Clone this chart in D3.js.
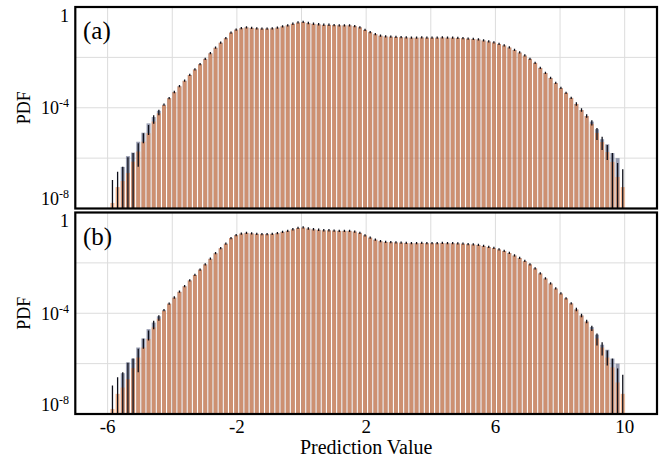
<!DOCTYPE html>
<html><head><meta charset="utf-8">
<script src="https://cdn.jsdelivr.net/npm/d3@7"></script>
<style>html,body{margin:0;padding:0;background:#fff}</style>
</head><body><svg id="chart" width="669" height="459"></svg>
<script>
// Histogram bins: 100 equal-width bins of prediction value
const binStart = -5.93;
const binWidth = 0.1595;

const xTickValues = [-6, -2, 2, 6, 10];
const xGridValues = [-6, -4, -2, 0, 2, 4, 6, 8, 10];
const yGridValues = [1e-2, 1e-4, 1e-6];
const yTickLabels = [{v: 1, base: "1", exp: ""}, {v: 1e-4, base: "10", exp: "-4"}, {v: 1e-8, base: "10", exp: "-8"}];
const panelLabels = ["(a)", "(b)"];

// log10(PDF) per bin, panel (a)
const orangeA = [
 -7.78,-7.15,-6.91,-6.59,-6.14,-5.74,-5.35,-5.01,-4.55,-4.22,
 -3.90,-3.62,-3.38,-3.15,-2.93,-2.70,-2.48,-2.27,-2.06,-1.84,
 -1.62,-1.42,-1.24,-1.02,-0.90,-0.84,-0.81,-0.83,-0.85,-0.86,
 -0.86,-0.85,-0.82,-0.77,-0.73,-0.67,-0.62,-0.60,-0.64,-0.67,
 -0.69,-0.71,-0.71,-0.72,-0.73,-0.73,-0.73,-0.76,-0.81,-0.91,
 -1.00,-1.08,-1.14,-1.17,-1.18,-1.19,-1.20,-1.21,-1.22,-1.22,
 -1.21,-1.22,-1.22,-1.22,-1.21,-1.22,-1.22,-1.23,-1.24,-1.26,
 -1.27,-1.29,-1.33,-1.37,-1.41,-1.47,-1.53,-1.61,-1.71,-1.81,
 -1.93,-2.06,-2.22,-2.42,-2.62,-2.82,-3.02,-3.22,-3.41,-3.61,
 -3.85,-4.09,-4.33,-4.64,-5.00,-5.36,-5.76,-6.15,-6.75,-7.15];
const navyA = [
 -9.00,-9.00,-6.35,-5.92,-5.78,-5.35,-4.99,-4.62,-4.37,-4.12,
 -3.88,-3.62,-3.38,-3.15,-2.93,-2.70,-2.48,-2.27,-2.06,-1.84,
 -1.62,-1.42,-1.24,-1.02,-0.90,-0.84,-0.81,-0.83,-0.85,-0.86,
 -0.86,-0.85,-0.82,-0.77,-0.73,-0.67,-0.62,-0.60,-0.64,-0.67,
 -0.69,-0.71,-0.71,-0.72,-0.73,-0.73,-0.73,-0.76,-0.81,-0.91,
 -1.00,-1.08,-1.14,-1.17,-1.18,-1.19,-1.20,-1.21,-1.22,-1.22,
 -1.21,-1.22,-1.22,-1.22,-1.21,-1.22,-1.22,-1.23,-1.24,-1.26,
 -1.27,-1.29,-1.33,-1.37,-1.41,-1.47,-1.53,-1.61,-1.71,-1.81,
 -1.93,-2.06,-2.22,-2.42,-2.62,-2.82,-3.02,-3.22,-3.41,-3.61,
 -3.85,-4.09,-4.33,-4.55,-4.85,-5.25,-5.45,-5.80,-6.00,-9.00];
const errHiA = [
 -6.87,-6.54,-6.34,-5.97,-5.80,-5.41,-5.01,-4.68,-4.30,-4.08,
 -3.83,-3.57,-3.33,-3.10,-2.88,-2.65,-2.43,-2.22,-2.01,-1.79,
 -1.57,-1.37,-1.19,-0.97,-0.85,-0.79,-0.76,-0.78,-0.80,-0.81,
 -0.81,-0.80,-0.77,-0.72,-0.68,-0.62,-0.57,-0.55,-0.59,-0.62,
 -0.64,-0.66,-0.66,-0.67,-0.68,-0.68,-0.68,-0.71,-0.76,-0.86,
 -0.95,-1.03,-1.09,-1.12,-1.13,-1.14,-1.15,-1.16,-1.17,-1.17,
 -1.16,-1.17,-1.17,-1.17,-1.16,-1.17,-1.17,-1.18,-1.19,-1.21,
 -1.22,-1.24,-1.28,-1.32,-1.36,-1.42,-1.48,-1.56,-1.66,-1.76,
 -1.88,-2.01,-2.17,-2.37,-2.57,-2.77,-2.97,-3.17,-3.36,-3.56,
 -3.78,-4.02,-4.26,-4.50,-4.80,-5.15,-5.48,-5.80,-6.19,-6.44];
const errLoA = [
 -9.00,-9.00,-9.00,-9.00,-9.00,-6.34,-5.41,-5.08,-4.64,-4.30,
 -3.92,-3.66,-3.42,-3.19,-2.97,-2.74,-2.52,-2.31,-2.10,-1.88,
 -1.66,-1.46,-1.28,-1.06,-0.94,-0.88,-0.85,-0.87,-0.89,-0.90,
 -0.90,-0.89,-0.86,-0.81,-0.77,-0.71,-0.66,-0.64,-0.68,-0.71,
 -0.73,-0.75,-0.75,-0.76,-0.77,-0.77,-0.77,-0.80,-0.85,-0.95,
 -1.04,-1.12,-1.18,-1.21,-1.22,-1.23,-1.24,-1.25,-1.26,-1.26,
 -1.25,-1.26,-1.26,-1.26,-1.25,-1.26,-1.26,-1.27,-1.28,-1.30,
 -1.31,-1.33,-1.37,-1.41,-1.45,-1.51,-1.57,-1.65,-1.75,-1.85,
 -1.97,-2.10,-2.26,-2.46,-2.66,-2.86,-3.06,-3.26,-3.45,-3.65,
 -3.92,-4.16,-4.40,-4.70,-5.28,-5.68,-6.07,-9.00,-9.00,-9.00];

// log10(PDF) per bin, panel (b)
const orangeB = [
 -7.80,-7.20,-6.95,-6.62,-6.18,-5.76,-5.36,-5.02,-4.56,-4.22,
 -3.90,-3.62,-3.38,-3.15,-2.93,-2.70,-2.48,-2.27,-2.06,-1.84,
 -1.62,-1.42,-1.24,-1.02,-0.90,-0.84,-0.81,-0.83,-0.85,-0.86,
 -0.86,-0.85,-0.82,-0.77,-0.73,-0.67,-0.62,-0.60,-0.64,-0.67,
 -0.69,-0.71,-0.71,-0.72,-0.73,-0.73,-0.73,-0.76,-0.81,-0.91,
 -1.00,-1.08,-1.14,-1.17,-1.18,-1.19,-1.20,-1.21,-1.22,-1.22,
 -1.21,-1.22,-1.22,-1.22,-1.21,-1.22,-1.22,-1.23,-1.24,-1.26,
 -1.27,-1.29,-1.33,-1.37,-1.41,-1.47,-1.53,-1.61,-1.71,-1.81,
 -1.93,-2.06,-2.22,-2.42,-2.62,-2.82,-3.02,-3.22,-3.41,-3.61,
 -3.85,-4.09,-4.33,-4.64,-5.00,-5.36,-5.76,-6.15,-6.75,-7.20];
const navyB = [
 -9.00,-9.00,-6.38,-5.95,-5.80,-5.36,-5.00,-4.63,-4.37,-4.12,
 -3.88,-3.62,-3.38,-3.15,-2.93,-2.70,-2.48,-2.27,-2.06,-1.84,
 -1.62,-1.42,-1.24,-1.02,-0.90,-0.84,-0.81,-0.83,-0.85,-0.86,
 -0.86,-0.85,-0.82,-0.77,-0.73,-0.67,-0.62,-0.60,-0.64,-0.67,
 -0.69,-0.71,-0.71,-0.72,-0.73,-0.73,-0.73,-0.76,-0.81,-0.91,
 -1.00,-1.08,-1.14,-1.17,-1.18,-1.19,-1.20,-1.21,-1.22,-1.22,
 -1.21,-1.22,-1.22,-1.22,-1.21,-1.22,-1.22,-1.23,-1.24,-1.26,
 -1.27,-1.29,-1.33,-1.37,-1.41,-1.47,-1.53,-1.61,-1.71,-1.81,
 -1.93,-2.06,-2.22,-2.42,-2.62,-2.82,-3.02,-3.22,-3.41,-3.61,
 -3.85,-4.09,-4.33,-4.55,-4.85,-5.25,-5.45,-5.80,-6.00,-9.00];
const errHiB = errHiA.slice();
const errLoB = errLoA.slice();

const panelsData = [
  {label: panelLabels[0], orange: orangeA, navy: navyA, hi: errHiA, lo: errLoA, top: 7, bottom: 208.5},
  {label: panelLabels[1], orange: orangeB, navy: navyB, hi: errHiB, lo: errLoB, top: 212.5, bottom: 414}
];

const svg = d3.select("#chart");
const font = "Liberation Serif, Times New Roman, serif";
const x = d3.scaleLinear().domain([-7, 11]).range([75.3, 657]);
const [xL, xR] = x.range();

panelsData.forEach((p, k) => {
  const y = d3.scaleLog().domain([1e-8, 1]).range([p.bottom, p.top]);
  const g = svg.append("g");
  const clipId = "clip" + k;
  svg.append("defs").append("clipPath").attr("id", clipId)
    .append("rect").attr("x", xL).attr("y", p.top).attr("width", xR - xL).attr("height", p.bottom - p.top);

  const plot = g.append("g").attr("clip-path", `url(#${clipId})`);

  // grid
  plot.selectAll("line.vg").data(xGridValues).join("line")
    .attr("x1", d => x(d)).attr("x2", d => x(d))
    .attr("y1", p.top).attr("y2", p.bottom)
    .attr("stroke", "#dcdcdc").attr("stroke-width", 1);
  plot.selectAll("line.hg").data(yGridValues).join("line")
    .attr("x1", xL).attr("x2", xR)
    .attr("y1", d => y(d)).attr("y2", d => y(d))
    .attr("stroke", "#dcdcdc").attr("stroke-width", 1);

  const bins = d3.range(p.orange.length).map(i => ({
    x0: binStart + i * binWidth,
    x1: binStart + (i + 1) * binWidth,
    orange: Math.pow(10, p.orange[i]),
    navy: Math.pow(10, p.navy[i]),
    hi: Math.pow(10, p.hi[i]),
    lo: Math.pow(10, p.lo[i])
  }));
  const bx = d => x(d.x0) + 0.6;
  const bw = d => x(d.x1) - x(d.x0) - 1.2;

  plot.append("g").selectAll("rect").data(bins).join("rect")
    .attr("x", bx).attr("width", bw)
    .attr("y", d => y(d.navy)).attr("height", d => Math.max(0, p.bottom - y(d.navy)))
    .attr("fill", "rgb(50,60,100)").attr("fill-opacity", 0.5);
  plot.append("g").selectAll("rect").data(bins).join("rect")
    .attr("x", bx).attr("width", bw)
    .attr("y", d => y(d.orange)).attr("height", d => Math.max(0, p.bottom - y(d.orange)))
    .attr("fill", "rgb(240,135,70)").attr("fill-opacity", 0.6);
  plot.append("g").selectAll("line").data(bins).join("line")
    .attr("x1", d => x((d.x0 + d.x1) / 2)).attr("x2", d => x((d.x0 + d.x1) / 2))
    .attr("y1", d => y(d.lo)).attr("y2", d => y(d.hi))
    .attr("stroke", "#0d0f1a").attr("stroke-width", 1.3);

  // frame
  g.append("rect").attr("x", xL).attr("y", p.top).attr("width", xR - xL).attr("height", p.bottom - p.top)
    .attr("fill", "none").attr("stroke", "#000").attr("stroke-width", 2.2);

  // y tick labels
  yTickLabels.forEach(t => {
    let cy = y(t.v);
    if (t.v === 1) cy += 8;
    if (t.v === 1e-8) cy -= 10;
    const txt = g.append("text").attr("x", 69).attr("y", cy + 6.5)
      .attr("text-anchor", "end").attr("font-family", font).attr("font-size", 18).attr("fill", "#000");
    txt.append("tspan").text(t.base);
    if (t.exp) txt.append("tspan").attr("font-size", 12).attr("dy", -7).text(t.exp);
  });

  // y axis title
  const cyMid = (p.top + p.bottom) / 2;
  g.append("text").attr("transform", `translate(30,${cyMid}) rotate(-90)`)
    .attr("text-anchor", "middle").attr("font-family", font).attr("font-size", 18).text("PDF");

  // panel label
  g.append("text").attr("x", 83).attr("y", p.top + 32)
    .attr("font-family", font).attr("font-size", 25).text(p.label);

  if (k === 1) {
    g.selectAll("text.xt").data(xTickValues).join("text")
      .attr("x", d => x(d)).attr("y", 432.5).attr("text-anchor", "middle")
      .attr("font-family", font).attr("font-size", 19).text(d => d);
    g.append("text").attr("x", (xL + xR) / 2).attr("y", 454).attr("text-anchor", "middle")
      .attr("font-family", font).attr("font-size", 20).text("Prediction Value");
  }
});
</script></body></html>
